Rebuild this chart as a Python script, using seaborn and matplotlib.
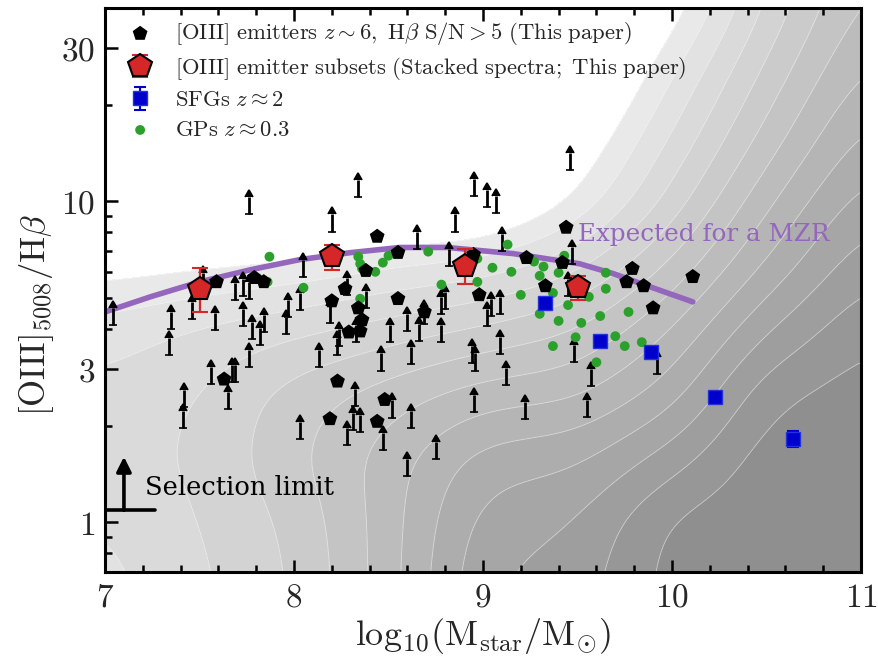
import numpy as np
import matplotlib
matplotlib.use("Agg")
import matplotlib.pyplot as plt
import seaborn as sns
from matplotlib.ticker import MultipleLocator, LogLocator, NullFormatter, FixedLocator, FixedFormatter

# ---------------- data ----------------
det_mass = [7.59, 7.79, 7.84, 8.44, 8.38, 8.55, 8.27, 8.20, 8.34, 8.36, 8.29, 8.35, 8.55,
            9.44, 8.95, 9.23, 9.42, 9.79, 9.76, 9.85, 9.90, 9.33, 8.98, 8.69, 10.11,
            7.63, 8.23, 8.19, 8.44, 8.48]
det_ratio = [5.61, 5.78, 5.61, 7.77, 6.08, 6.92, 5.34, 4.89, 4.65, 4.27, 3.91, 3.94, 4.97,
             8.29, 6.82, 6.67, 6.44, 6.17, 5.61, 5.45, 4.65, 5.45, 5.11, 4.52, 5.82,
             2.79, 2.75, 2.10, 2.06, 2.41]

lim_mass = [7.76, 8.34, 8.20, 8.05, 7.04, 7.46, 7.35, 7.58, 7.69, 7.73, 7.76, 7.52, 7.73,
            7.84, 7.78, 7.82, 7.97, 7.96, 8.03, 8.19, 8.28, 8.38, 8.24, 8.33, 8.51, 7.34,
            7.56, 7.67, 7.69, 7.76, 7.65, 7.42, 7.41, 8.03, 8.13, 8.23, 8.46, 8.32, 8.31,
            8.35, 8.28, 8.47, 8.52, 9.46, 8.95, 9.02, 9.07, 8.85, 8.65, 9.10, 8.82, 9.47,
            8.80, 8.78, 9.04, 9.09, 9.02, 8.60, 8.66, 8.78, 8.69, 9.09, 8.62, 8.94, 8.96,
            9.12, 9.48, 9.57, 8.95, 9.22, 9.55, 8.62, 8.75, 8.60, 9.92, 9.45]
lim_ratio = [9.11, 10.3, 8.05, 5.82, 4.12, 4.30, 4.00, 3.97, 4.93, 5.08, 4.97, 5.30, 4.08,
             3.91, 3.72, 3.56, 4.36, 3.86, 4.59, 4.18, 5.11, 4.65, 3.54, 3.64, 3.64, 3.31,
             2.69, 2.73, 2.73, 3.04, 2.26, 2.28, 1.96, 1.82, 3.04, 3.31, 2.97, 2.31, 1.94,
             1.91, 1.74, 1.68, 2.12, 12.5, 10.4, 9.58, 9.17, 8.05, 7.12, 7.02, 6.30, 6.39,
             4.62, 4.46, 4.39, 4.46, 4.08, 3.94, 3.67, 3.64, 4.15, 3.34, 3.11, 3.13, 2.97,
             2.67, 3.15, 2.65, 2.20, 2.10, 2.13, 1.97, 1.57, 1.39, 2.89, 5.08]

stack_mass = [7.50, 8.20, 8.905, 9.50]
stack_ratio = [5.34, 6.77, 6.30, 5.41]
stack_lo = [4.52, 6.12, 5.53, 4.93]
stack_hi = [6.21, 7.33, 7.12, 5.86]

sfg_mass = [9.33, 9.62, 9.89, 10.23, 10.64]
sfg_ratio = [4.82, 3.67, 3.39, 2.45, 1.82]
sfg_lo = [4.72, 3.60, 3.33, 2.40, 1.71]
sfg_hi = [4.92, 3.74, 3.45, 2.50, 1.93]

gp_mass = [7.87, 7.86, 8.05, 8.34, 8.35, 8.36, 8.43, 8.47, 8.50, 8.35, 9.13, 8.71, 8.97,
           9.05, 9.15, 9.27, 9.32, 9.30, 9.40, 9.43, 8.78, 8.97, 9.37, 9.20, 9.45, 9.56,
           9.65, 9.65, 9.77, 9.62, 9.52, 9.40, 9.30, 9.37, 9.49, 9.70, 9.75, 9.84, 9.60]
gp_ratio = [6.72, 5.61, 5.38, 6.72, 6.39, 6.17, 6.03, 6.44, 6.77, 4.97, 7.33, 6.97, 6.63,
            6.21, 6.03, 6.49, 6.26, 5.86, 5.99, 6.77, 5.50, 5.61, 5.18, 5.11, 4.75, 5.04,
            5.99, 5.34, 4.52, 4.39, 4.18, 4.24, 4.46, 3.54, 3.77, 3.80, 3.54, 3.64, 3.15]

mzr_mass = [7.00, 7.24, 7.50, 7.77, 8.03, 8.30, 8.56, 8.81, 9.16, 9.51, 9.69, 9.87, 10.11]
mzr_ratio = [4.52, 5.04, 5.61, 6.12, 6.58, 6.92, 7.18, 7.18, 6.87, 6.39, 5.95, 5.45, 4.86]

# background shading: band index read on a coarse grid (rows: log10 ratio)
bg_mass = [7.0, 7.5, 8.0, 8.5, 9.0, 9.5, 10.0, 10.5, 11.0]
bg_logratio = [-0.20, 0.0, 0.2, 0.4, 0.6, 0.8, 1.0, 1.2, 1.4, 1.65]
bg_level = [
    [1.6, 2.8, 4.0, 6.5, 10.0, 10.5, 12.5, 12.8, 12.8],
    [2.0, 3.0, 4.2, 6.5, 9.5, 10.0, 12.3, 12.8, 12.8],
    [2.5, 3.2, 4.8, 6.5, 8.5, 8.8, 10.5, 12.6, 12.8],
    [2.3, 3.0, 4.5, 5.5, 6.5, 6.8, 8.5, 11.8, 12.5],
    [1.5, 2.2, 2.8, 3.5, 4.2, 5.0, 7.0, 10.0, 11.8],
    [-0.5, -0.1, 0.3, 1.0, 1.5, 2.8, 5.2, 8.2, 10.7],
    [-3.0, -3.0, -3.0, -2.5, -2.2, 0.1, 3.4, 6.8, 9.5],
    [-3.5, -3.5, -3.5, -3.5, -3.3, -1.2, 2.1, 5.4, 8.3],
    [-4.0, -4.0, -4.0, -4.0, -4.0, -2.6, 0.9, 4.3, 7.2],
    [-4.0, -4.0, -4.0, -4.0, -4.0, -3.8, -1.0, 3.0, 6.1],
]

x_ticks = [7, 8, 9, 10, 11]
y_ticks = [1, 3, 10, 30]
y_ticklabels = ["$1$", "$3$", "$10$", "$30$"]

sel_mass, sel_ratio, sel_top, sel_bar_end = 7.10, 1.09, 1.60, 7.265

# ---------------- style ----------------
sns.set_theme(style="ticks")
plt.rcParams["font.family"] = ["DejaVu Serif", "DejaVu Sans"]
plt.rcParams["mathtext.fontset"] = "cm"

fig = plt.figure(figsize=(8.79, 6.58), dpi=100)
ax = fig.add_axes([0.1195, 0.1307, 0.8600, 0.8571])
ax.set_yscale("log")

# background
X = np.array(bg_mass)
T = np.array(bg_logratio)
V = np.array(bg_level)
xf = np.linspace(X.min(), X.max(), 321)
tf = np.linspace(T.min(), T.max(), 321)
Vx = np.array([np.interp(xf, X, row) for row in V])
Vf = np.array([np.interp(tf, T, Vx[:, j]) for j in range(len(xf))]).T

def blur(a, s):
    k = np.exp(-0.5 * (np.arange(-3 * s, 3 * s + 1) / s) ** 2)
    k /= k.sum()
    p = 3 * s
    a = np.pad(a, ((p, p), (p, p)), mode="edge")
    a = np.apply_along_axis(lambda r: np.convolve(r, k, mode="same"), 1, a)
    a = np.apply_along_axis(lambda c: np.convolve(c, k, mode="same"), 0, a)
    return a[p:-p, p:-p]

Vs = blur(Vf, 12)
levels = np.arange(0, 14)
greys = [str((233 - 7.5 * k) / 255) for k in range(len(levels))]
ax.contourf(xf, 10 ** tf, Vs, levels=levels, colors=greys[:-1], extend="max", zorder=0)
ax.contour(xf, 10 ** tf, Vs, levels=levels, colors="white", linewidths=0.6, alpha=0.55, zorder=0.5)

# MZR line
sns.lineplot(x=mzr_mass, y=mzr_ratio, ax=ax, color="#9467bd", lw=4, sort=False, zorder=2)

# lower limits
lim = ax.errorbar(lim_mass, lim_ratio, yerr=[np.zeros(len(lim_ratio)), 0.13 * np.array(lim_ratio)],
                  lolims=True, fmt="none", ecolor="black", elinewidth=2.0, capsize=3.2,
                  capthick=2.0, zorder=3)
for cl in lim[1]:
    cl.set_color("black")
    cl.set_markerfacecolor("black")
    cl.set_markeredgecolor("black")
    cl.set_markeredgewidth(1.2)

# detections
sns.scatterplot(x=det_mass, y=det_ratio, ax=ax, marker="p", s=125, color="black",
                edgecolor="none", zorder=4, label=r"$\mathrm{[OIII]\ emitters}\ z\sim6,\ \mathrm{H}\beta\ \mathrm{S/N}>5\ \mathrm{(This\ paper)}$")

# green peas
sns.scatterplot(x=gp_mass, y=gp_ratio, ax=ax, marker="o", s=50, color="#2ca02c",
                edgecolor="none", zorder=3.5, label=r"$\mathrm{GPs}\ z\approx0.3$")

# SFGs
sfg_err = [np.array(sfg_ratio) - np.array(sfg_lo), np.array(sfg_hi) - np.array(sfg_ratio)]
h_sfg = ax.errorbar(sfg_mass, sfg_ratio, yerr=sfg_err, fmt="s", ms=9.5, color="#0000cc",
                    mec="#2233dd", ecolor="#0000cc", elinewidth=1.5, capsize=4, capthick=1.5,
                    zorder=5, label=r"$\mathrm{SFGs}\ z\approx2$")

# stacks
st_err = [np.array(stack_ratio) - np.array(stack_lo), np.array(stack_hi) - np.array(stack_ratio)]
h_st = ax.errorbar(stack_mass, stack_ratio, yerr=st_err, fmt="p", ms=18, mfc="#d62728",
                   mec="black", mew=1.5, ecolor="#d62728", elinewidth=1.6, capsize=6,
                   capthick=1.6, zorder=6,
                   label=r"$\mathrm{[OIII]\ emitter\ subsets\ (Stacked\ spectra;\ This\ paper)}$")

# selection limit
ax.plot([7.0, sel_bar_end], [sel_ratio, sel_ratio], color="black", lw=2.6, zorder=6)
ax.annotate("", xy=(sel_mass, sel_top), xytext=(sel_mass, sel_ratio),
            arrowprops=dict(arrowstyle="-|>", lw=2.6, color="black", mutation_scale=22,
                            shrinkA=0, shrinkB=0), zorder=6)
ax.text(7.21, 1.28, "Selection limit", fontsize=18.5, ha="left", va="center", color="black", zorder=7)
ax.text(9.50, 7.88, "Expected for a MZR", fontsize=17.7, ha="left", va="center", color="#9467bd", zorder=7)

# axes
ax.set_xlim(7, 11)
ax.set_ylim(0.7, 40)
ax.xaxis.set_major_locator(FixedLocator(x_ticks))
ax.xaxis.set_major_formatter(FixedFormatter([f"${t}$" for t in x_ticks]))
ax.xaxis.set_minor_locator(MultipleLocator(0.2))
ax.yaxis.set_major_locator(FixedLocator(y_ticks))
ax.yaxis.set_major_formatter(FixedFormatter(y_ticklabels))
ax.yaxis.set_minor_locator(LogLocator(base=10, subs=np.arange(2, 10)))
ax.yaxis.set_minor_formatter(NullFormatter())
ax.tick_params(which="both", direction="in", top=True, right=False, labelsize=24, width=1.8, color="black")
ax.tick_params(which="major", length=9, pad=7)
ax.tick_params(which="minor", length=5)
for s in ax.spines.values():
    s.set_linewidth(2.2)
    s.set_color("black")

ax.set_xlabel(r"$\mathrm{log}_{10}(\mathrm{M_{star}/M_{\odot}})$", fontsize=26, labelpad=2)
ax.set_ylabel(r"$\mathrm{[OIII]_{5008}/H}\beta$", fontsize=25, labelpad=4)
ax.yaxis.label.set_y(0.455)

handles, labels = ax.get_legend_handles_labels()
lab_map = dict(zip(labels, handles))
order = [labels[0], h_st.get_label(), h_sfg.get_label(), labels[1]]
order_h = [lab_map[l] for l in order]
ax.legend(order_h, order, loc="upper left", frameon=False, fontsize=16.3, labelspacing=0.33,
          handletextpad=0.55, borderaxespad=0.15, bbox_to_anchor=(0.0, 1.0))

fig.savefig("out.png", dpi=100)
